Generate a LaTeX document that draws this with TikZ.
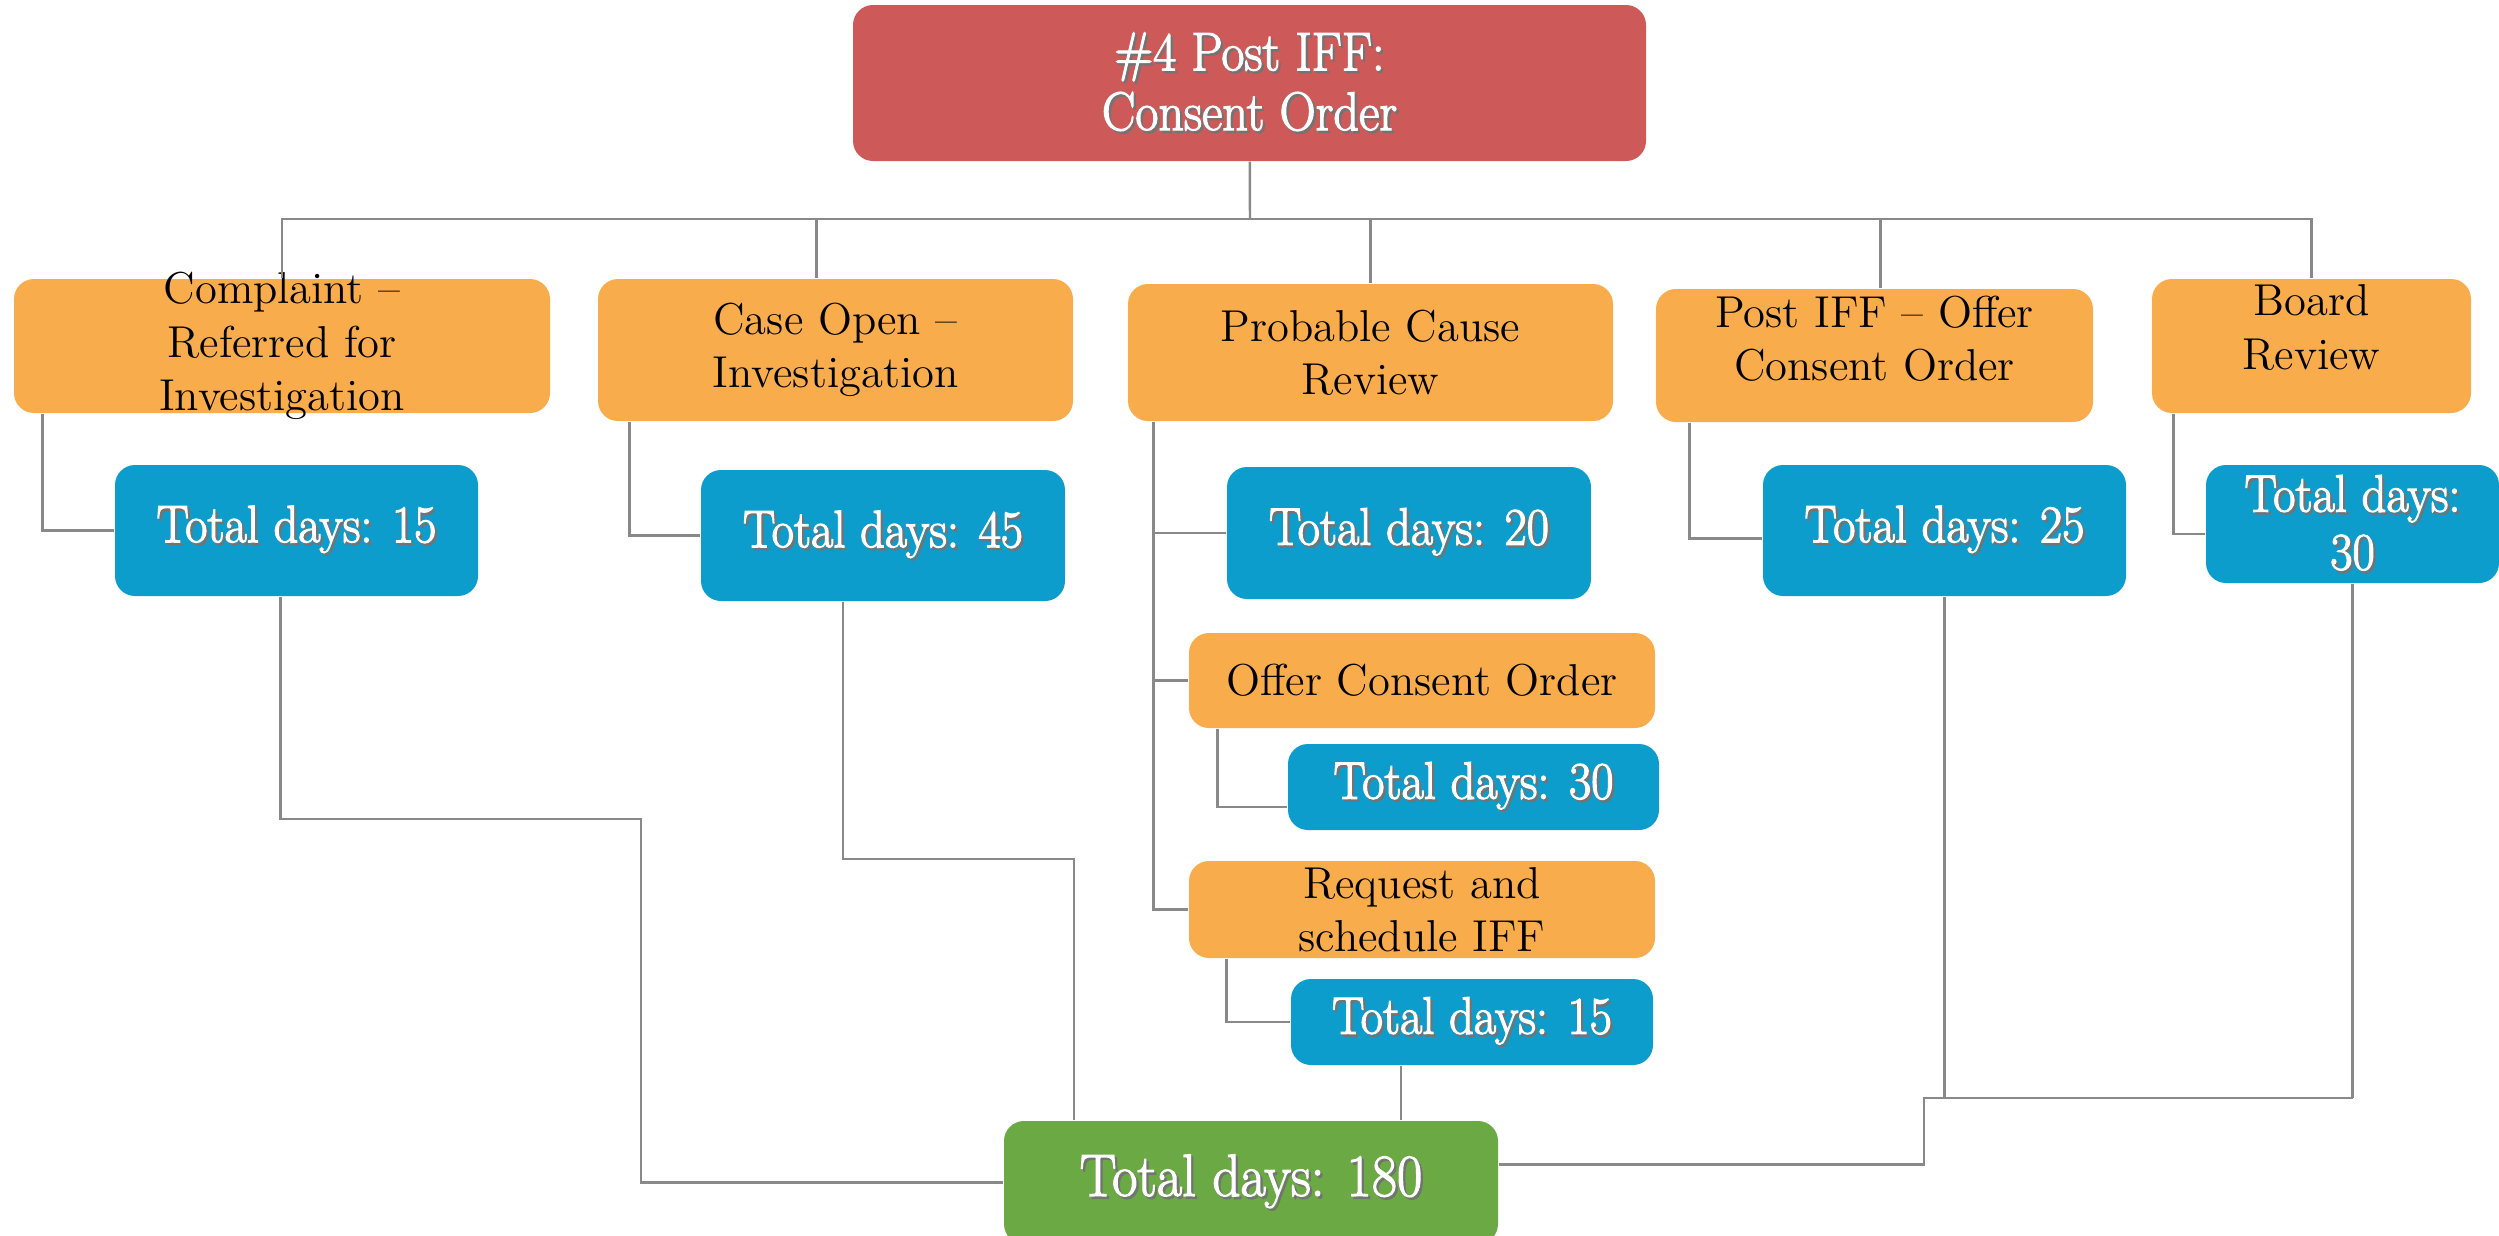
\documentclass[tikz,border=0pt]{standalone}
\usepackage{xcolor}
\usepackage{graphicx}
\usepackage{tikz}
\definecolor{headred}{HTML}{CD5A59}
\definecolor{taskorange}{HTML}{F9AC4B}
\definecolor{dayblue}{HTML}{0C9DCD}
\definecolor{sumgreen}{HTML}{6AA944}
\definecolor{linkgray}{HTML}{898989}
\newcommand{\thick}[1]{\special{pdf:literal direct 2 Tr 0.35 w}#1\special{pdf:literal direct 0 Tr}}
\newcommand{\wtxt}[1]{\scalebox{0.92}[1]{\rlap{\raisebox{-0.7pt}{\hspace{0.7pt}\textcolor{black!55}{\thick{#1}}}}\textcolor{white}{\thick{#1}}}}

\begin{document}
\begin{tikzpicture}[
		box/.style={rounded corners=2mm,inner sep=0pt,align=center},
		headbox/.style={box,fill=headred,font=\fontsize{15.5}{17}\selectfont},
		taskbox/.style={box,fill=taskorange,font=\fontsize{12.7}{15.2}\selectfont},
		daybox/.style={box,fill=dayblue,font=\fontsize{15}{16.5}\selectfont},
		sumbox/.style={box,fill=sumgreen,font=\fontsize{17}{20}\selectfont},
		link/.style={draw=linkgray,line width=0.7pt}]
		\useasboundingbox (0,0) rectangle (24.99,-12.35);

		\node[headbox,minimum width=7.93cm,minimum height=1.56cm] (title) at (12.495,-0.83) {\wtxt{\#4 Post IFF:}\\\wtxt{Consent Order}};

		\node[taskbox,minimum width=5.36cm,minimum height=1.34cm,inner ysep=-0.7mm] (complaint) at (2.82,-3.46) {Complaint --\\Referred for\\Investigation};
		\node[taskbox,minimum width=4.75cm,minimum height=1.42cm] (caseopen) at (8.355,-3.50) {Case Open --\\Investigation};
		\node[taskbox,minimum width=4.85cm,minimum height=1.37cm] (probable) at (13.705,-3.525) {Probable Cause\\Review};
		\node[taskbox,minimum width=4.37cm,minimum height=1.33cm] (postiff) at (18.745,-3.555) {Post IFF -- Offer\\Consent Order\rule[-3.4mm]{0pt}{0pt}};
		\node[taskbox,minimum width=3.19cm,minimum height=1.34cm] (board) at (23.115,-3.46) {Board\\Review\rule[-3.8mm]{0pt}{0pt}};

		\node[daybox,minimum width=3.63cm,minimum height=1.31cm] (d1) at (2.965,-5.305) {\wtxt{Total days: 15}};
		\node[daybox,minimum width=3.64cm,minimum height=1.31cm] (d2) at (8.83,-5.355) {\wtxt{Total days: 45}};
		\node[daybox,minimum width=3.64cm,minimum height=1.32cm] (d3) at (14.09,-5.33) {\wtxt{Total days: 20}};
		\node[daybox,minimum width=3.63cm,minimum height=1.31cm] (d4) at (19.445,-5.305) {\wtxt{Total days: 25}};
		\node[daybox,minimum width=2.93cm,minimum height=1.18cm] (d5) at (23.525,-5.24) {\wtxt{Total days:}\\\wtxt{30}};

		\node[taskbox,minimum width=4.66cm,minimum height=0.95cm] (offer) at (14.22,-6.805) {Offer Consent Order};
		\node[daybox,minimum width=3.71cm,minimum height=0.86cm] (d6) at (14.735,-7.87) {\wtxt{Total days: 30}};
		\node[taskbox,minimum width=4.66cm,minimum height=0.97cm] (request) at (14.22,-9.095) {Request and\\schedule IFF};
		\node[daybox,minimum width=3.62cm,minimum height=0.86cm] (d7) at (14.72,-10.22) {\wtxt{Total days: 15}};

		\node[sumbox,minimum width=4.94cm,minimum height=1.23cm] (total) at (12.51,-11.825) {\wtxt{Total days: 180}};

		% top tree
		\coordinate (hub) at (12.50,-2.19);
		\draw[link] (title) -- (hub);
		\draw[link] (hub) -| (complaint);
		\draw[link] (hub) -| ([xshift=-1.9mm]caseopen.north);
		\draw[link] (hub) -| (probable);
		\draw[link] (hub) -| ([xshift=0.6mm]postiff.north);
		\draw[link] (hub) -| (board);

		% steps to their days
		\draw[link] ([xshift=2.9mm]complaint.south west) |- (d1);
		\draw[link] ([xshift=3.2mm]caseopen.south west) |- (d2);
		\coordinate (pc) at ([xshift=2.6mm]probable.south west);
		\draw[link] (pc) |- (request);
		\draw[link] (pc) |- (d3);
		\draw[link] (pc) |- (offer);
		\draw[link] ([xshift=2.9mm]offer.south west) |- ([yshift=-2mm]d6.west);
		\draw[link] ([xshift=3.8mm]request.south west) |- (d7);
		\draw[link] ([xshift=3.4mm]postiff.south west) |- ([yshift=-0.8mm]d4.west);
		\draw[link] ([xshift=2.2mm]board.south west) |- ([yshift=-1mm]d5.west);

		% days to total
		\coordinate (j1) at (6.41,-8.19);
		\draw[link] ([xshift=-1.6mm]d1.south) |- (j1) |- (total);
		\coordinate (j2) at (10.74,-8.59);
		\draw[link] ([xshift=-4mm]d2.south) |- (j2) -- (j2 |- total.north);
		\coordinate (j3) at ([xshift=-7.1mm]d7.south);
		\draw[link] (j3) -- (j3 |- total.north);
		\coordinate (j4) at (19.24,-10.98);
		\draw[link] (d4) -- (d4 |- j4);
		\draw[link] (d5) -- (d5 |- j4);
		\draw[link] ([yshift=1.8mm]total.east) -| (j4) -- (d5 |- j4);
\end{tikzpicture}
\end{document}
